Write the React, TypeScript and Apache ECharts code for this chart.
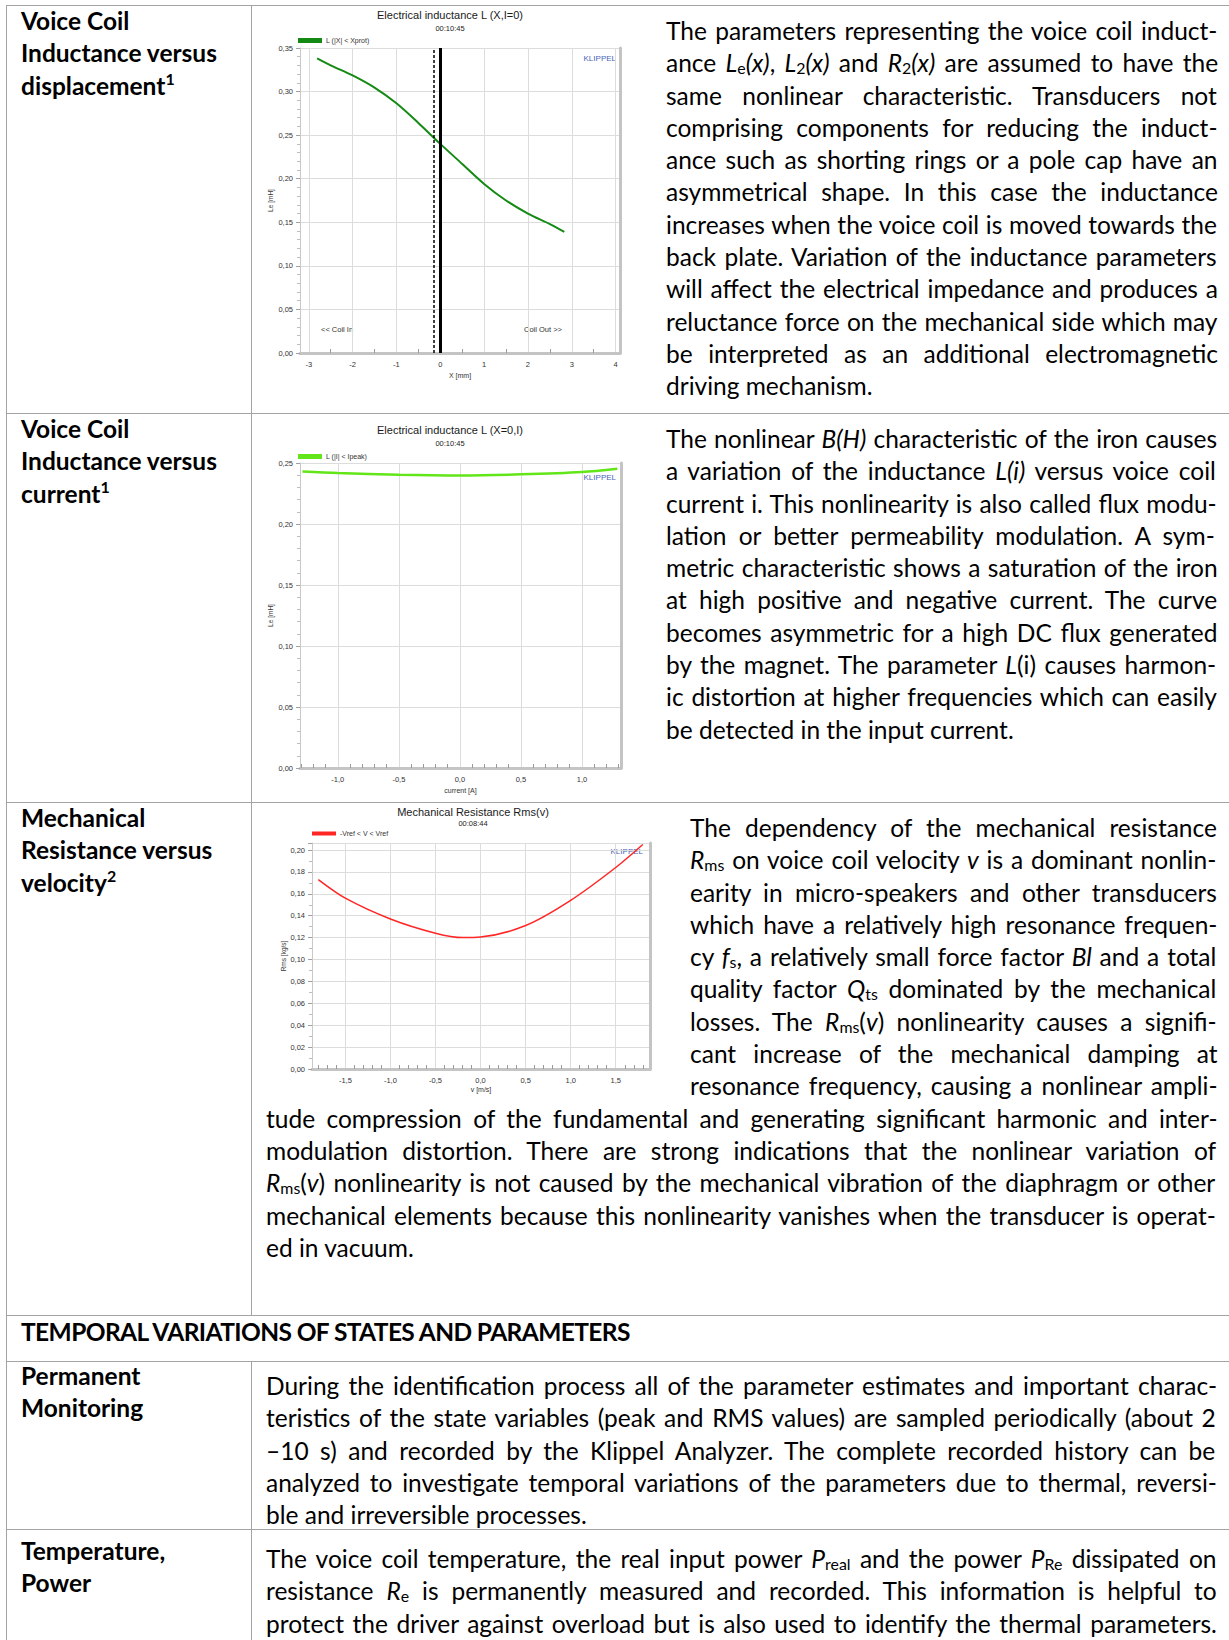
import React, { useEffect, useRef } from 'react';
import * as echarts from 'echarts';

// ---------------- chart data ----------------
const dispX = [-2.81, -2.5, -2.0, -1.5, -1.0, -0.5, 0, 0.5, 1.0, 1.5, 2.0, 2.5, 2.83];
const dispL = [0.338, 0.330, 0.3185, 0.3045, 0.2865, 0.264, 0.240, 0.217, 0.194, 0.175, 0.160, 0.148, 0.139];

const curI = [-1.29, -1.0, -0.5, 0, 0.5, 1.0, 1.29];
const curL = [0.2431, 0.2418, 0.2404, 0.2398, 0.2407, 0.2426, 0.2453];

const velV = [-1.8, -1.5, -1.0, -0.5, -0.2, 0, 0.5, 1.0, 1.5, 1.8];
const velR = [0.173, 0.156, 0.137, 0.124, 0.120, 0.1205, 0.131, 0.154, 0.184, 0.205];

const markX = [0, -0.14];

// ---------------- document text ----------------
const row1Label = ['Voice Coil', 'Inductance versus', 'displacement^1^'];
const row1Text = [
  'The parameters representing the voice coil induct-',
  'ance *L*_e_*(x)*, *L*_2_*(x)* and *R*_2_*(x)* are assumed to have the',
  'same nonlinear characteristic. Transducers not',
  'comprising components for reducing the induct-',
  'ance such as shorting rings or a pole cap have an',
  'asymmetrical shape. In this case the inductance',
  'increases when the voice coil is moved towards the',
  'back plate. Variation of the inductance parameters',
  'will affect the electrical impedance and produces a',
  'reluctance force on the mechanical side which may',
  'be interpreted as an additional electromagnetic',
  'driving mechanism.',
];
const row2Label = ['Voice Coil', 'Inductance versus', 'current^1^'];
const row2Text = [
  'The nonlinear *B(H)* characteristic of the iron causes',
  'a variation of the inductance *L(i)* versus voice coil',
  'current i. This nonlinearity is also called flux modu-',
  'lation or better permeability modulation. A sym-',
  'metric characteristic shows a saturation of the iron',
  'at high positive and negative current. The curve',
  'becomes asymmetric for a high DC flux generated',
  'by the magnet. The parameter *L*(i) causes harmon-',
  'ic distortion at higher frequencies which can easily',
  'be detected in the input current.',
];
const row3Label = ['Mechanical', 'Resistance versus', 'velocity^2^'];
const row3TextA = [
  'The dependency of the mechanical resistance',
  '*R*_ms_ on voice coil velocity *v* is a dominant nonlin-',
  'earity in micro-speakers and other transducers',
  'which have a relatively high resonance frequen-',
  'cy *f*_s_, a relatively small force factor *Bl* and a total',
  'quality factor *Q*_ts_ dominated by the mechanical',
  'losses. The *R*_ms_(*v*) nonlinearity causes a signifi-',
  'cant increase of the mechanical damping at',
  'resonance frequency, causing a nonlinear ampli-',
];
const row3TextB = [
  'tude compression of the fundamental and generating significant harmonic and inter-',
  'modulation distortion. There are strong indications that the nonlinear variation of',
  '*R*_ms_(*v*) nonlinearity is not caused by the mechanical vibration of the diaphragm or other',
  'mechanical elements because this nonlinearity vanishes when the transducer is operat-',
  'ed in vacuum.',
];
const headerLabel = ['TEMPORAL VARIATIONS OF STATES AND PARAMETERS'];
const permLabel = ['Permanent', 'Monitoring'];
const permText = [
  'During the identification process all of the parameter estimates and important charac-',
  'teristics of the state variables (peak and RMS values) are sampled periodically (about 2',
  '–10 s) and recorded by the Klippel Analyzer. The complete recorded history can be',
  'analyzed to investigate temporal variations of the parameters due to thermal, reversi-',
  'ble and irreversible processes.',
];
const tempLabel = ['Temperature,', 'Power'];
const tempText = [
  'The voice coil temperature, the real input power *P*_real_ and the power *P*_Re_ dissipated on',
  'resistance *R*_e_ is permanently measured and recorded. This information is helpful to',
  'protect the driver against overload but is also used to identify the thermal parameters.',
];

// ---------------- text helpers ----------------
const BODY_FONT = 'Lato';
const BODY_SIZE = 24.5;
const LH = 32.3;

type Seg = { t: string; st: 'n' | 'i' | 'sub' | 'sup' };

function parse(s: string): Seg[] {
  const segs: Seg[] = [];
  const re = /\*([^*]+)\*|_([^_]+)_|\^([^^]+)\^|([^*_^]+)/g;
  let m: RegExpExecArray | null;
  while ((m = re.exec(s))) {
    if (m[1] !== undefined) segs.push({ t: m[1], st: 'i' });
    else if (m[2] !== undefined) segs.push({ t: m[2], st: 'sub' });
    else if (m[3] !== undefined) segs.push({ t: m[3], st: 'sup' });
    else segs.push({ t: m[4], st: 'n' });
  }
  return segs;
}

let mctx: CanvasRenderingContext2D | null = null;
function measure(segs: Seg[], bold: boolean, size: number): number {
  if (!mctx) mctx = document.createElement('canvas').getContext('2d');
  if (!mctx) return 0;
  let w = 0;
  for (const s of segs) {
    const fs = s.st === 'sub' || s.st === 'sup' ? size * 0.65 : size;
    mctx.font = `${s.st === 'i' ? 'italic ' : ''}${bold ? 'bold ' : ''}${fs}px ${BODY_FONT}`;
    w += mctx.measureText(s.t).width;
  }
  return w;
}

function TextLine({ text, width, justify, bold, size }: { text: string; width: number; justify: boolean; bold: boolean; size: number }) {
  const segs = parse(text);
  let ws = 0;
  if (justify) {
    const nat = measure(segs, bold, size);
    const n = segs.reduce((a, s) => a + (s.t.match(/ /g) || []).length, 0);
    if (n > 0) ws = (width - nat) / n;
  }
  return (
    <div style={{ height: LH, lineHeight: LH + 'px', whiteSpace: 'nowrap', wordSpacing: ws + 'px' }}>
      {segs.map((s, i) => {
        if (s.st === 'i') return <i key={i}>{s.t}</i>;
        if (s.st === 'sub') return <span key={i} style={{ fontSize: '0.65em', verticalAlign: '-0.12em', lineHeight: 0 }}>{s.t}</span>;
        if (s.st === 'sup') return <span key={i} style={{ fontSize: '0.65em', verticalAlign: '0.6em', lineHeight: 0 }}>{s.t}</span>;
        return <span key={i}>{s.t}</span>;
      })}
    </div>
  );
}

function Para({ x, top, width, lines, bold = false, justify = true, lastJustify = false, size = BODY_SIZE, letterSpacing = 0 }: {
  x: number; top: number; width: number; lines: string[]; bold?: boolean; justify?: boolean; lastJustify?: boolean; size?: number; letterSpacing?: number;
}) {
  return (
    <div style={{ position: 'absolute', left: x, top, width, fontWeight: bold ? 700 : 400, fontSize: size, letterSpacing }}>
      {lines.map((l, i) => (
        <TextLine key={i} text={l} width={width} bold={bold} size={size}
          justify={justify && (i < lines.length - 1 || lastJustify)} />
      ))}
    </div>
  );
}

const BORDER = '#a3a3a3';
function HLine({ y, x1, x2 }: { y: number; x1: number; x2: number }) {
  return <div style={{ position: 'absolute', left: x1, top: y, width: x2 - x1, height: 1, background: BORDER }} />;
}
function VLine({ x, y1, y2 }: { x: number; y1: number; y2: number }) {
  return <div style={{ position: 'absolute', left: x, top: y1, width: 1, height: y2 - y1, background: BORDER }} />;
}

// ---------------- chart option ----------------
const CH_FONT = '"Liberation Sans", Arial, sans-serif';
const LBL = '#333';
const GRIDC = '#dcdcdc';
const FRAME = '#c4c4c4';

function tickFmt(step: number, dec: number) {
  return (v: number) => {
    const k = v / step;
    if (Math.abs(k - Math.round(k)) > 1e-6) return '';
    const r = Math.round(k) * step;
    return (Math.abs(r) < 1e-9 ? 0 : r).toFixed(dec).replace('.', ',');
  };
}

function xAxisCfg(gi: number, min: number, max: number, split: number, step: number, dec: number, name: string, nameGap: number, minorSplit: number) {
  return {
    type: 'value', gridIndex: gi, min, max, splitNumber: split,
    name, nameLocation: 'middle', nameGap,
    nameTextStyle: { fontSize: 7, color: LBL, fontFamily: CH_FONT },
    axisLine: { show: true, onZero: false, lineStyle: { color: FRAME, width: 3 } },
    axisTick: { show: false, inside: true },
    minorTick: { show: true, splitNumber: minorSplit, length: 4, lineStyle: { color: '#9a9a9a', width: 1 } },
    axisLabel: { formatter: tickFmt(step, dec), fontSize: 7.5, color: LBL, fontFamily: CH_FONT, margin: 7 },
    splitLine: { show: true, lineStyle: { color: GRIDC, width: 1 } },
  };
}
function yAxisCfg(gi: number, max: number, step: number, name: string, nameGap: number, minorSplit: number) {
  return {
    type: 'value', gridIndex: gi, min: 0, max, interval: step,
    name, nameLocation: 'middle', nameGap, nameRotate: 90,
    nameTextStyle: { fontSize: 6.5, color: LBL, fontFamily: CH_FONT },
    axisLine: { show: true, onZero: false, lineStyle: { color: '#c8c8c8', width: 1 } },
    axisTick: { show: true, length: 4, lineStyle: { color: '#a0a0a0' } },
    minorTick: { show: true, splitNumber: minorSplit, length: 3, lineStyle: { color: '#bdbdbd' } },
    axisLabel: { formatter: tickFmt(step, 2), fontSize: 7.5, color: LBL, fontFamily: CH_FONT, margin: 7 },
    splitLine: { show: true, lineStyle: { color: GRIDC, width: 1 } },
  };
}
function yFrameCfg(gi: number, max: number) {
  return {
    type: 'value', gridIndex: gi, position: 'right', min: 0, max,
    axisLine: { show: true, onZero: false, lineStyle: { color: FRAME, width: 3 } },
    axisTick: { show: false }, axisLabel: { show: false }, splitLine: { show: false },
  };
}
function gText(x: number, y: number, text: string, size: number, align = 'center', fill = '#1a1a1a') {
  return {
    type: 'text', x, y, silent: true,
    style: { text, fontSize: size, fontFamily: CH_FONT, fill, align, verticalAlign: 'middle', textAlign: align, textVerticalAlign: 'middle' },
  };
}
function legendCfg(name: string, left: number, top: number, h: number) {
  return {
    data: [name], left, top, padding: 0, icon: 'rect', itemWidth: 24, itemHeight: h, itemGap: 6,
    textStyle: { fontSize: 7, color: LBL, fontFamily: CH_FONT, padding: [0, 0, 0, -1] },
    selectedMode: false,
  };
}

const S1 = 'L (|X| < Xprot)';
const S2 = 'L (|I| < Ipeak)';
const S3 = '-Vref < V < Vref';
const KLIP = '#4a66b8';

function buildOption() {
  return {
    animation: false,
    grid: [
      { left: 300, top: 48, width: 320, height: 305 },
      { left: 300, top: 463, width: 321, height: 305 },
      { left: 312, top: 843, width: 338, height: 226 },
    ],
    xAxis: [
      xAxisCfg(0, -3.2, 4.1, 7, 1, 0, 'X [mm]', 19, 2),
      xAxisCfg(1, -1.31, 1.32, 5, 0.5, 1, 'current [A]', 19, 5),
      xAxisCfg(2, -1.87, 1.88, 7, 0.5, 1, 'v [m/s]', 17, 5),
    ],
    yAxis: [
      yAxisCfg(0, 0.35, 0.05, 'Le [mH]', 26, 5),
      yFrameCfg(0, 0.35),
      yAxisCfg(1, 0.25, 0.05, 'Le [mH]', 26, 5),
      yFrameCfg(1, 0.25),
      yAxisCfg(2, 0.2064, 0.02, 'Rms [kg/s]', 24, 2),
      yFrameCfg(2, 0.2064),
    ],
    legend: [
      legendCfg(S1, 298, 37, 5),
      legendCfg(S2, 298, 453, 5),
      legendCfg(S3, 312, 830, 4),
    ],
    series: [
      {
        name: S1, type: 'line', xAxisIndex: 0, yAxisIndex: 0, smooth: 0.3, showSymbol: false, silent: true,
        data: dispX.map((x, i) => [x, dispL[i]]),
        lineStyle: { color: '#148a14', width: 2 }, itemStyle: { color: '#148a14' },
        markLine: {
          silent: true, symbol: ['none', 'none'], label: { show: false },
          data: [
            { xAxis: markX[0], lineStyle: { color: '#000', width: 3, type: 'solid' } },
            { xAxis: markX[1], lineStyle: { color: '#000', width: 1.5, type: [3, 2] } },
          ],
        },
      },
      {
        name: S2, type: 'line', xAxisIndex: 1, yAxisIndex: 2, smooth: 0.3, showSymbol: false, silent: true,
        data: curI.map((x, i) => [x, curL[i]]),
        lineStyle: { color: '#62e619', width: 2.5 }, itemStyle: { color: '#62e619' },
      },
      {
        name: S3, type: 'line', xAxisIndex: 2, yAxisIndex: 4, smooth: 0.3, showSymbol: false, silent: true,
        data: velV.map((x, i) => [x, velR[i]]),
        lineStyle: { color: '#ff2626', width: 1.5 }, itemStyle: { color: '#ff2626' },
      },
    ],
    graphic: [
      gText(450, 15, 'Electrical inductance L (X,I=0)', 11),
      gText(450, 28, '00:10:45', 7.5),
      gText(616, 58, 'KLIPPEL', 8, 'right', KLIP),
      gText(321, 329, '<< Coil In', 7.5, 'left', '#333'),
      gText(524, 329, 'Coil Out >>', 7.5, 'left', '#333'),

      gText(450, 430, 'Electrical inductance L (X=0,I)', 11),
      gText(450, 443, '00:10:45', 7.5),
      gText(616, 477, 'KLIPPEL', 8, 'right', KLIP),

      gText(473, 812, 'Mechanical Resistance Rms(v)', 11),
      gText(473, 823, '00:08:44', 7.5),
      gText(643, 851, 'KLIPPEL', 8, 'right', KLIP),
    ],
  };
}

function Charts() {
  const ref = useRef<HTMLDivElement>(null);
  useEffect(() => {
    if (!ref.current) return;
    const chart = echarts.init(ref.current, undefined, { renderer: 'svg' });
    chart.setOption(buildOption() as any);
    return () => chart.dispose();
  }, []);
  return <div ref={ref} style={{ position: 'absolute', left: 0, top: 0, width: 1229, height: 1640, zIndex: 2 }} />;
}

export default function App() {
  const L = 21;
  return (
    <div style={{
      position: 'absolute', left: 0, top: 0, width: 1229, height: 1640, overflow: 'hidden',
      background: '#fff', fontFamily: BODY_FONT, fontSize: BODY_SIZE, color: '#000',
    }}>
      {/* table borders */}
      <HLine y={5} x1={6} x2={1229} />
      <HLine y={413} x1={6} x2={1229} />
      <HLine y={802} x1={6} x2={1229} />
      <HLine y={1315} x1={6} x2={1229} />
      <HLine y={1361} x1={6} x2={1229} />
      <HLine y={1529} x1={6} x2={1229} />
      <VLine x={6} y1={5} y2={1640} />
      <VLine x={251} y1={5} y2={1315} />
      <VLine x={251} y1={1361} y2={1640} />

      {/* left column labels */}
      <Para x={L} top={5} width={225} lines={row1Label} bold justify={false} />
      <Para x={L} top={413} width={225} lines={row2Label} bold justify={false} />
      <Para x={L} top={802} width={225} lines={row3Label} bold justify={false} />
      <Para x={L} top={1316} width={900} lines={headerLabel} bold justify={false} letterSpacing={-0.6} />
      <Para x={L} top={1360} width={225} lines={permLabel} bold justify={false} />
      <Para x={L} top={1535} width={225} lines={tempLabel} bold justify={false} />

      {/* right column text */}
      <Para x={666} top={15} width={552} lines={row1Text} />
      <Para x={666} top={423} width={552} lines={row2Text} />
      <Para x={690} top={812} width={528} lines={row3TextA} lastJustify />
      <Para x={266} top={812 + 9 * LH} width={952} lines={row3TextB} />
      <Para x={266} top={1370} width={952} lines={permText} />
      <Para x={266} top={1543} width={952} lines={tempText} lastJustify />

      <Charts />
    </div>
  );
}
